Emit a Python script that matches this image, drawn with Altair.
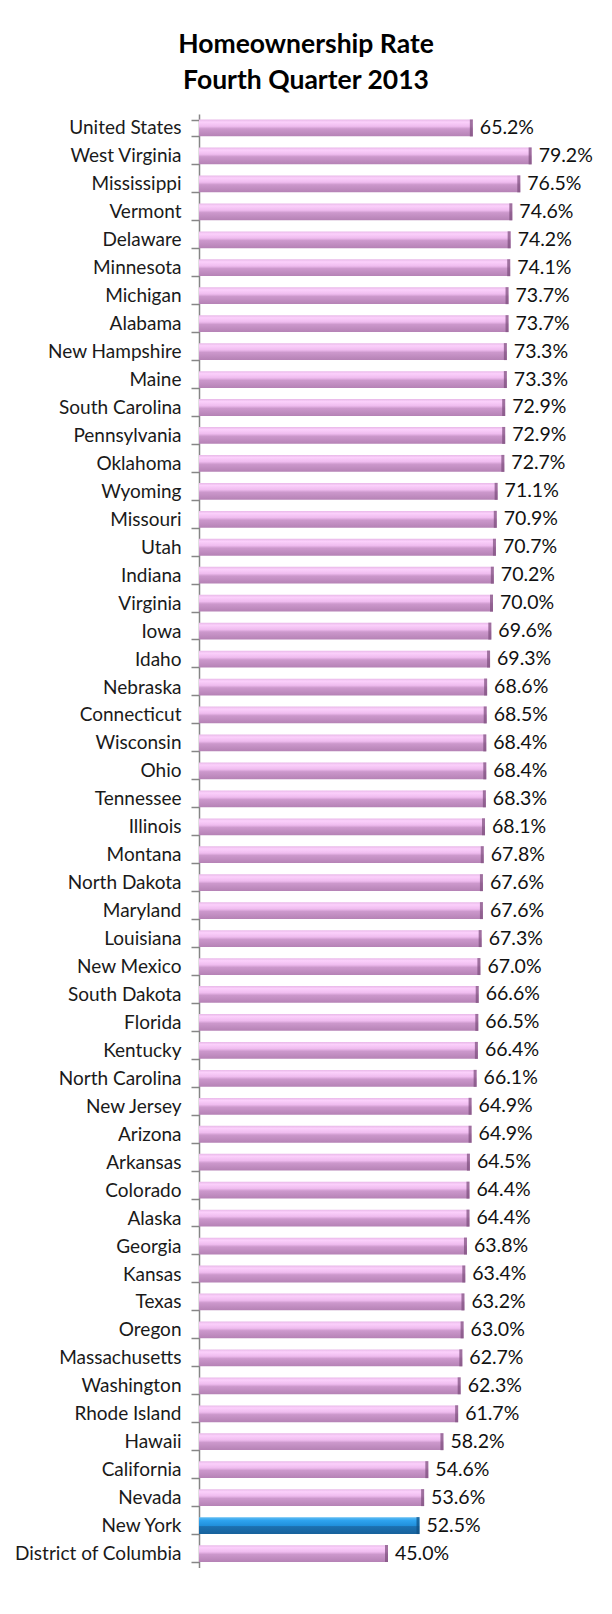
import altair as alt
import pandas as pd

states = [
    "United States", "West Virginia", "Mississippi", "Vermont", "Delaware",
    "Minnesota", "Michigan", "Alabama", "New Hampshire", "Maine",
    "South Carolina", "Pennsylvania", "Oklahoma", "Wyoming", "Missouri",
    "Utah", "Indiana", "Virginia", "Iowa", "Idaho",
    "Nebraska", "Connecticut", "Wisconsin", "Ohio", "Tennessee",
    "Illinois", "Montana", "North Dakota", "Maryland", "Louisiana",
    "New Mexico", "South Dakota", "Florida", "Kentucky", "North Carolina",
    "New Jersey", "Arizona", "Arkansas", "Colorado", "Alaska",
    "Georgia", "Kansas", "Texas", "Oregon", "Massachusetts",
    "Washington", "Rhode Island", "Hawaii", "California", "Nevada",
    "New York", "District of Columbia",
]
rates = [
    65.2, 79.2, 76.5, 74.6, 74.2,
    74.1, 73.7, 73.7, 73.3, 73.3,
    72.9, 72.9, 72.7, 71.1, 70.9,
    70.7, 70.2, 70.0, 69.6, 69.3,
    68.6, 68.5, 68.4, 68.4, 68.3,
    68.1, 67.8, 67.6, 67.6, 67.3,
    67.0, 66.6, 66.5, 66.4, 66.1,
    64.9, 64.9, 64.5, 64.4, 64.4,
    63.8, 63.4, 63.2, 63.0, 62.7,
    62.3, 61.7, 58.2, 54.6, 53.6,
    52.5, 45.0,
]
highlight = "New York"
title_lines = ["Homeownership Rate", "Fourth Quarter 2013"]

df = pd.DataFrame({"state": states, "rate": rates})
df["label"] = [f"{v:.1f}%" for v in rates]

X_MAX = 90
W = 378
H = 1453.5
PAD_L, PAD_T = 191, 106
PAD_R = 596 - PAD_L - W
PAD_B = 1598 - PAD_T - H

pink = alt.Gradient(
    gradient="linear", x1=0, x2=0, y1=0, y2=1,
    stops=[
        alt.GradientStop(offset=0.0, color="#e8b8e8"),
        alt.GradientStop(offset=0.15, color="#fbd0fb"),
        alt.GradientStop(offset=0.4, color="#efbcef"),
        alt.GradientStop(offset=0.55, color="#cc98cc"),
        alt.GradientStop(offset=1.0, color="#b582b5"),
    ],
)
blue = alt.Gradient(
    gradient="linear", x1=0, x2=0, y1=0, y2=1,
    stops=[
        alt.GradientStop(offset=0.0, color="#62bdf2"),
        alt.GradientStop(offset=0.2, color="#2ea3ef"),
        alt.GradientStop(offset=0.5, color="#2190dc"),
        alt.GradientStop(offset=0.56, color="#1c70b0"),
        alt.GradientStop(offset=1.0, color="#17629c"),
    ],
)

y_enc = alt.Y(
    "state:N", sort=states,
    scale=alt.Scale(paddingInner=0.4, paddingOuter=0.2),
    axis=alt.Axis(
        title=None, tickBand="extent", domainColor="#868686", tickColor="#868686",
        domainWidth=1.5, tickWidth=1.5, tickSize=8, labelPadding=10,
        labelFont="Lato", labelFontSize=19, labelColor="#1a1a1a", labelLimit=300,
    ),
)
x_enc = alt.X("rate:Q", scale=alt.Scale(domain=[0, X_MAX]), axis=None)

base = alt.Chart(df).encode(y=y_enc, x=x_enc)

bars = base.transform_filter(alt.datum.state != highlight).mark_bar(color=pink)
ny_bar = base.transform_filter(alt.datum.state == highlight).mark_bar(color=blue)
caps = base.mark_tick(orient="vertical", thickness=3, size=17, xOffset=-1.5).encode(
    color=alt.condition(alt.datum.state == highlight, alt.value("#0e4f82"), alt.value("#7a4c7a"))
)
labels = base.mark_text(
    align="left", baseline="middle", dx=7, font="Lato", fontSize=19.5, color="#111111"
).encode(text="label:N")

chart = (
    alt.layer(bars, ny_bar, caps, labels)
    .properties(
        width=W, height=H,
        title=alt.TitleParams(
            title_lines, font="Lato", fontSize=26.5, fontWeight="bold", color="#000000",
            anchor="middle", lineHeight=36, baseline="bottom", offset=26, dx=-82, dy=42,
        ),
        autosize=alt.AutoSizeParams(type="none"),
        padding={"left": PAD_L, "top": PAD_T, "right": PAD_R, "bottom": PAD_B},
    )
    .configure_view(stroke=None)
)

chart.save("out.html", embed_options={"renderer": "svg", "actions": False})
